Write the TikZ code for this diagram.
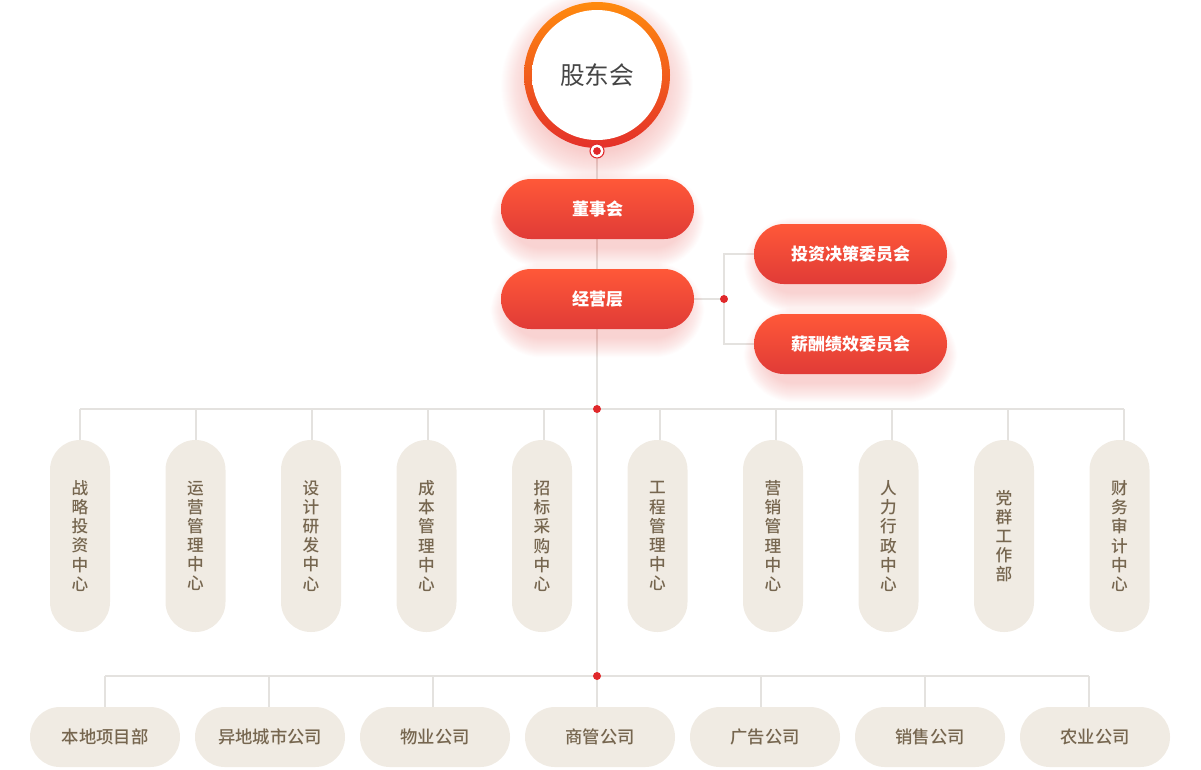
\documentclass[tikz,border=0pt]{standalone}
\usepackage{fontspec}
\newfontfamily\cjk{Noto Sans CJK SC}
\newfontfamily\cjkm{Noto Sans CJK SC Medium}
\usetikzlibrary{calc}
\definecolor{linec}{HTML}{E4E2DF}
\definecolor{dotred}{HTML}{E0282A}
\definecolor{pilltop}{HTML}{FF5838}
\definecolor{pillbot}{HTML}{E03B37}
\definecolor{beige}{HTML}{F0EBE3}
\definecolor{browntxt}{HTML}{76664F}
\definecolor{glowc}{HTML}{E85A55}
\definecolor{ringtop}{HTML}{FF8A0E}
\definecolor{ringbot}{HTML}{E4302A}
\definecolor{txtgray}{HTML}{454545}
\definecolor{peach}{HTML}{FFEBDC}
\pgfdeclareradialshading{innerglow}{\pgfpoint{0bp}{0bp}}{color(0bp)=(white); color(40bp)=(white); color(50bp)=(peach)}
\pgfdeclarelayer{bg}\pgfdeclarelayer{glow}
\pgfsetlayers{bg,glow,main}
\newcommand\pillglow[1]{%
  \foreach \k in {1,...,20}{%
    \pgfmathsetmacro\rr{22.5+0.75*\k}%
    \fill[glowc, opacity=0.014, rounded corners=\rr pt]
      ($(#1.south west)+(-\k+10, 8+\k)$) rectangle ($(#1.north east)+(\k-10,-\k+14)$);
  }}
\begin{document}
\begin{tikzpicture}[x=0.75pt,y=-0.75pt,
  gl/.style={draw=linec, line width=1.5pt},
  redpill/.style={rounded corners=22.4pt, minimum width=144.75pt, minimum height=45pt,
    inner sep=0pt, top color=pilltop, bottom color=pillbot, text=white,
    font=\cjk\bfseries\fontsize{12.75}{15}\selectfont},
  vpill/.style={rounded corners=22.4pt, minimum width=45pt, minimum height=144pt,
    inner sep=0pt, fill=beige, text=browntxt, align=center,
    font=\cjkm\fontsize{12.5}{14.3}\selectfont},
  hpill/.style={rounded corners=22.4pt, minimum width=112.5pt, minimum height=45pt,
    inner sep=0pt, fill=beige, text=browntxt,
    font=\cjkm\fontsize{13}{15}\selectfont},
  rdot/.style={circle, fill=dotred, minimum size=6pt, inner sep=0pt}
]
\useasboundingbox (0,0) rectangle (1201,769);

% top circle
\begin{pgfonlayer}{glow}
\foreach \k in {1,...,30}{\fill[glowc, opacity=0.011] (597,86) circle ({(66+\k)*0.75pt});}
\end{pgfonlayer}
\node[circle, minimum size=109.5pt, inner sep=0pt, top color=ringtop, bottom color=ringbot] (ring) at (597,75) {};
\node[circle, minimum size=97.5pt, inner sep=0pt, shading=innerglow, text=txtgray,
  font=\cjk\fontsize{18.5}{20}\selectfont] (gd) at (597,75) {股东会};
\node[circle, fill=white, draw=dotred, line width=0.8pt, minimum size=10.5pt, inner sep=0pt] (gdot) at (597,151) {};
\fill[dotred] (gdot.center) circle (2.9pt);

% red pills
\node[redpill] (dsh) at (597.5,209) {董事会};
\node[redpill] (jyc) at (597.5,299) {经营层};
\node[redpill] (tz) at (850.5,254) {投资决策委员会};
\node[redpill] (xc) at (850.5,344) {薪酬绩效委员会};
\begin{pgfonlayer}{glow}
\pillglow{dsh}\pillglow{jyc}\pillglow{tz}\pillglow{xc}
\end{pgfonlayer}

% junction dots
\node[rdot] (j3) at (724,299) {};
\node[rdot] (j1) at (597,409) {};
\node[rdot] (j2) at (597,676) {};

% vertical pills
\foreach \t [count=\i from 0] in {战\\略\\投\\资\\中\\心, 运\\营\\管\\理\\中\\心, 设\\计\\研\\发\\中\\心,
  成\\本\\管\\理\\中\\心, 招\\标\\采\\购\\中\\心, 工\\程\\管\\理\\中\\心, 营\\销\\管\\理\\中\\心,
  人\\力\\行\\政\\中\\心, 党\\群\\工\\作\\部, 财\\务\\审\\计\\中\\心}
  \node[vpill] (v\i) at (80+115.5*\i,536) {\t};

% bottom pills
\foreach \t [count=\i from 0] in {本地项目部, 异地城市公司, 物业公司, 商管公司, 广告公司, 销售公司, 农业公司}
  \node[hpill] (b\i) at (105+165*\i,737) {\t};

% connectors
\begin{pgfonlayer}{bg}
\draw[gl] (gdot) -- (j1.center) -- (j2.center);
\draw[gl] (jyc.east) -- (j3.center);
\draw[gl] (tz.west) -| (j3.center) |- (xc.west);
\coordinate (bl) at (80,409);
\coordinate (br) at (1124,409);
\draw[gl] (bl) -- (br);
\foreach \i in {0,...,9}{
  \coordinate (dd\i) at ($(bl)+(116*\i,0)$);
  \draw[gl] (dd\i) -- (dd\i |- v\i.center);
}
\coordinate (cl) at (105,676);
\coordinate (cr) at (1089,676);
\draw[gl] (cl) -- (cr);
\foreach \i in {0,...,6}{
  \coordinate (ee\i) at ($(cl)+(164*\i,0)$);
  \draw[gl] (ee\i) -- (ee\i |- b\i.center);
}
\end{pgfonlayer}
\end{tikzpicture}
\end{document}
